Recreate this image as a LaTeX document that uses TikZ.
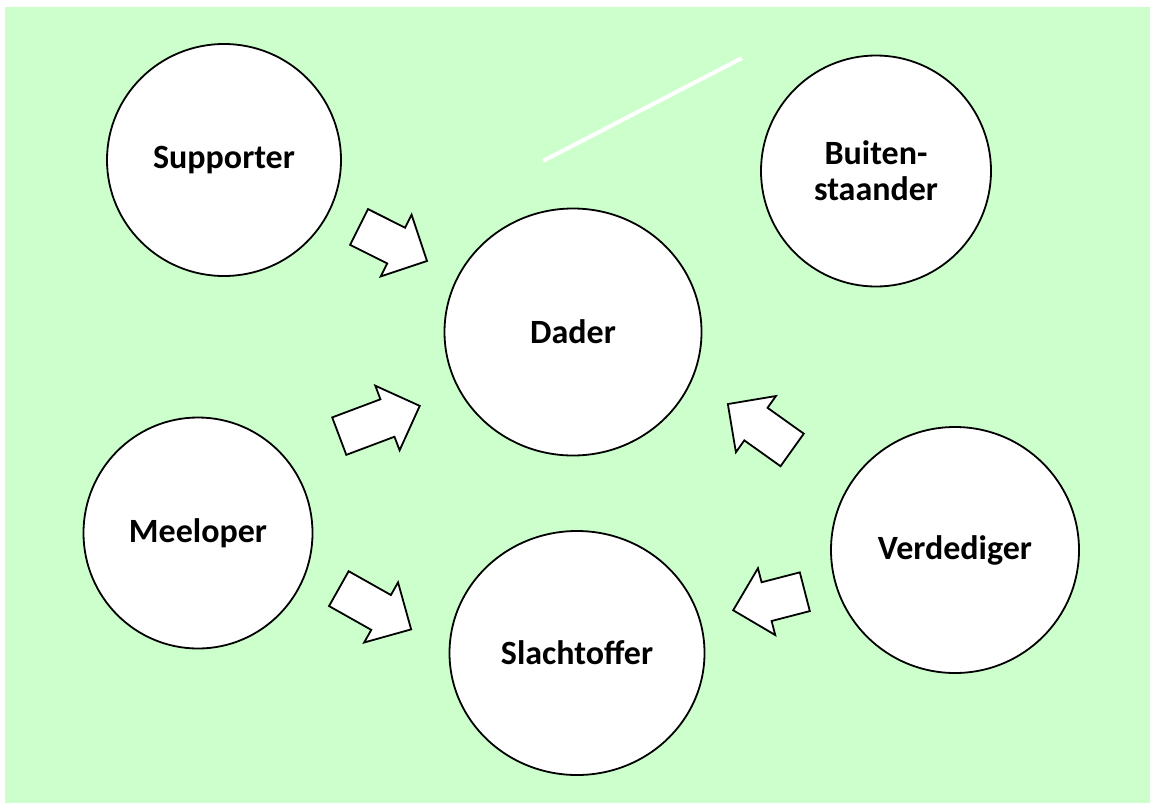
\documentclass[tikz,border=0pt]{standalone}
\usepackage{fontspec}
\setmainfont{Carlito}
\usetikzlibrary{shapes.geometric}
\definecolor{bggreen}{RGB}{204,255,204}
\tikzset{
  role/.style={ellipse, draw=black, line width=1.8pt, fill=white, inner sep=0pt,
    align=center, font=\fontsize{34}{36}\selectfont\bfseries},
  arrowline/.style={draw=black, line width=1.8pt, fill=white, line join=miter},
  pics/blockarrow/.style={code={
    \path[arrowline] ({-#1/2},-20) -- ({#1/2-34.5},-20) -- ({#1/2-34.5},-34.5)
      -- ({#1/2},0) -- ({#1/2-34.5},34.5) -- ({#1/2-34.5},20) -- ({-#1/2},20) -- cycle;
  }}
}
\begin{document}
\begin{tikzpicture}[x=1pt,y=-1pt]
\useasboundingbox (0,0) rectangle (1150,803);
\fill[bggreen] (5,7) rectangle (1150,803);
% white stroke
\coordinate (w1) at (543,161);
\coordinate (w2) at (742,58);
\draw[white, line width=4pt] (w1) -- (w2);
% roles
\node[role, minimum width=234pt, minimum height=232pt] (supporter) at (224,160) {Supporter};
\node[role, minimum width=230pt, minimum height=231pt] (buiten) at (876,171) {Buiten-\\staander};
\node[role, minimum width=257pt, minimum height=247pt] (dader) at (573,332) {Dader};
\node[role, minimum width=229pt, minimum height=231pt] (meeloper) at (198,533) {Meeloper};
\node[role, minimum width=255pt, minimum height=244pt] (slacht) at (577,653) {Slachtoffer};
\node[role, minimum width=248pt, minimum height=246pt] (verd) at (955,550) {Verdediger};
% block arrows
\pic[rotate=-26.6] (a1) at (393,244) {blockarrow=76};
\pic[rotate=20.6] (a2) at (379.5,421) {blockarrow=86};
\pic[rotate=-29.4] (a3) at (375,609) {blockarrow=83};
\pic[rotate=144.5] (a4) at (760,427) {blockarrow=79};
\pic[rotate=194.5] (a5) at (769,601) {blockarrow=74};
\end{tikzpicture}
\end{document}
